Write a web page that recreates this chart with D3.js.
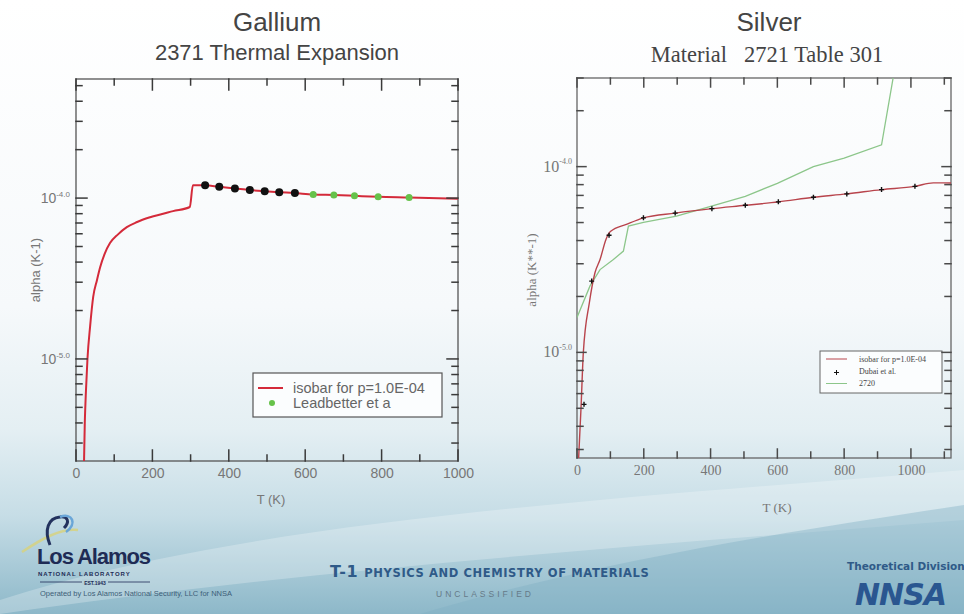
<!DOCTYPE html>
<html><head><meta charset="utf-8">
<script src="https://cdn.jsdelivr.net/npm/d3@7"></script>
<style>html,body{margin:0;padding:0;background:#fff;} svg{display:block}</style>
</head><body>
<svg id="c" width="964" height="614" xmlns="http://www.w3.org/2000/svg"></svg>
<script>
// ---------------- DATA ----------------
// Gallium (left)
const gaIsobarT = [18, 23, 26, 30, 37, 45, 55, 63, 75, 89, 110, 133, 160, 194, 254, 298, 306, 338, 375, 416, 455, 494, 532, 573, 621, 675, 729, 791, 872, 1000];
const gaIsobarA = [1.0e-6, 4.0e-6, 6.3e-6, 1.0e-5, 1.6e-5, 2.43e-5, 3.1e-5, 3.7e-5, 4.5e-5, 5.25e-5, 5.95e-5, 6.6e-5, 7.1e-5, 7.6e-5, 8.3e-5, 8.8e-5, 1.2e-4, 1.202e-4, 1.175e-4, 1.148e-4, 1.122e-4, 1.104e-4, 1.089e-4, 1.074e-4, 1.054e-4, 1.045e-4, 1.033e-4, 1.019e-4, 1.009e-4, 0.991e-4];
const gaBlackT = [338, 375, 416, 455, 494, 532, 573];
const gaBlackA = [1.20e-4, 1.175e-4, 1.148e-4, 1.122e-4, 1.104e-4, 1.089e-4, 1.074e-4];
const gaLeadT = [621, 675, 729, 791, 872];
const gaLeadA = [1.054e-4, 1.045e-4, 1.033e-4, 1.019e-4, 1.009e-4];
const gaXDomain = [0, 1000];
const gaYDomain = [2.32e-6, 5.5e-4];
const gaXMajor = [0, 200, 400, 600, 800, 1000];
const gaXMinor = [100, 300, 500, 700, 900];
const gaYMajorLabels = {"1e-5": "-5.0", "1e-4": "-4.0"};
const gaLegend = ["isobar for p=1.0E-04", "Leadbetter et a"];

// Silver (right)
const agIsobarT = [4, 12, 19, 37, 54, 69, 87, 100, 150, 199, 294, 404, 504, 603, 708, 808, 912, 1012, 1067, 1120];
const agIsobarA = [2.5e-6, 5.0e-6, 1.0e-5, 1.85e-5, 2.69e-5, 3.16e-5, 4.07e-5, 4.47e-5, 4.90e-5, 5.30e-5, 5.62e-5, 5.94e-5, 6.19e-5, 6.46e-5, 6.84e-5, 7.13e-5, 7.52e-5, 7.83e-5, 8.18e-5, 8.17e-5];
const agDataT = [21, 44, 96, 199, 294, 404, 504, 603, 708, 808, 912, 1012];
const agDataA = [5.25e-6, 2.42e-5, 4.27e-5, 5.30e-5, 5.62e-5, 5.94e-5, 6.19e-5, 6.46e-5, 6.84e-5, 7.13e-5, 7.52e-5, 7.83e-5];
const ag2720T = [0, 39, 69, 109, 139, 154, 199, 298, 369, 504, 600, 708, 800, 912, 968];
const ag2720A = [1.54e-5, 2.28e-5, 2.79e-5, 3.16e-5, 3.51e-5, 4.79e-5, 5.01e-5, 5.41e-5, 5.89e-5, 6.92e-5, 8.13e-5, 1.0e-4, 1.11e-4, 1.31e-4, 5.0e-4];
const agXDomain = [0, 1120];
const agYDomain = [2.7e-6, 3e-4];
const agXMajor = [0, 200, 400, 600, 800, 1000];
const agXMinor = [100, 300, 500, 700, 900, 1100];
const agYMajorLabels = {"1e-5": "-5.0", "1e-4": "-4.0"};
const agLegend = ["isobar for p=1.0E-04", "Dubai et al.", "2720"];

// ---------------- DRAW ----------------
const svg = d3.select("#c");
const defs = svg.append("defs");

const bg = defs.append("linearGradient").attr("id","bg").attr("x1",0).attr("y1",0).attr("x2",0).attr("y2",1);
[[0,"#ffffff"],[0.5,"#f6f9fb"],[0.7,"#e4eff3"],[0.84,"#c6dde6"],[1,"#8db8c9"]].forEach(s=>bg.append("stop").attr("offset",s[0]).attr("stop-color",s[1]));
svg.append("rect").attr("width",964).attr("height",614).attr("fill","url(#bg)");
const rg = defs.append("radialGradient").attr("id","lt").attr("cx",0).attr("cy",0.5).attr("r",0.5);
rg.append("stop").attr("offset",0).attr("stop-color","#4f8fa6").attr("stop-opacity",0.9);
rg.append("stop").attr("offset",1).attr("stop-color","#5f9bb0").attr("stop-opacity",0);
svg.append("ellipse").attr("cx",0).attr("cy",520).attr("rx",220).attr("ry",150).attr("fill","url(#lt)");
svg.append("path").attr("d","M0,600 C250,520 600,500 964,470 L964,520 C650,545 300,570 0,614 Z").attr("fill","#ffffff").attr("opacity",0.25);
svg.append("path").attr("d","M420,614 C600,560 800,530 964,505 L964,614 Z").attr("fill","#7fb0c3").attr("opacity",0.4);

function superLabel(sel, labels, supSize, bigSize){
  sel.each(function(d){
    const t = d3.select(this);
    const key = "1e" + Math.round(Math.log10(d));
    t.text(null);
    if(!(key in labels)) return;
    t.append("tspan").attr("font-size",bigSize).text("10");
    t.append("tspan").attr("dy",-bigSize*0.45).attr("font-size",supSize).text(labels[key]);
  });
}
function isMajor(d){ const l=Math.log10(d); return Math.abs(l-Math.round(l))<1e-6; }

function panel(o){
  const x = d3.scaleLinear(o.xDomain,[o.x0,o.x1]);
  const y = d3.scaleLog(o.yDomain,[o.y1,o.y0]);
  const clipId = "clip"+o.id;
  defs.append("clipPath").attr("id",clipId).append("rect").attr("x",o.x0).attr("y",o.y0).attr("width",o.x1-o.x0).attr("height",o.y1-o.y0);

  const yAll = y.ticks(); const yMaj = yAll.filter(isMajor); const yMin = yAll.filter(d=>!isMajor(d));

  const g = svg.append("g");
  g.append("g").attr("transform",`translate(0,${o.y1})`)
    .call(d3.axisBottom(x).tickValues(o.xMajor).tickSize(0).tickPadding(o.xPad).tickFormat(d3.format("d")))
    .call(s=>s.select(".domain").remove())
    .call(s=>s.selectAll("text").attr("font-family",o.font).attr("font-size",o.tickFont).attr("fill",o.textColor));
  g.append("g").attr("transform",`translate(${o.x0},0)`)
    .call(d3.axisLeft(y).tickValues(yMaj).tickSize(0).tickPadding(o.yPad))
    .call(s=>s.select(".domain").remove())
    .call(s=>s.selectAll("text").attr("font-family",o.font).attr("fill",o.textColor).attr("dy","0.45em")
      .call(superLabel, o.yLabels, o.supFont, o.tenFont));

  svg.append("rect").attr("x",o.x0).attr("y",o.y0).attr("width",o.x1-o.x0).attr("height",o.y1-o.y0)
    .attr("fill","none").attr("stroke",o.axisColor).attr("stroke-width",1.3);

  const plot = svg.append("g").attr("clip-path",`url(#${clipId})`);
  return {g, x, y, plot, o, yMaj, yMin};
}

function drawTicks(P){
  const {x, y, o, yMaj, yMin} = P;
  const segs = [];
  o.xMajor.forEach(v=>{ const px=x(v); segs.push([px,o.y1,px,o.y1-o.majLen],[px,o.y0,px,o.y0+o.majLen]); });
  o.xMinor.forEach(v=>{ const px=x(v); segs.push([px,o.y1,px,o.y1-o.minLen],[px,o.y0,px,o.y0+o.minLen]); });
  yMaj.forEach(v=>{ const py=y(v); segs.push([o.x0,py,o.x0+o.majLen,py],[o.x1,py,o.x1-o.majLen,py]); });
  yMin.forEach(v=>{ const py=y(v); segs.push([o.x0,py,o.x0+o.minLen,py],[o.x1,py,o.x1-o.minLen,py]); });
  svg.append("g").attr("class","ticks"+o.id)
    .selectAll("line").data(segs).enter().append("line")
    .attr("x1",d=>d[0]).attr("y1",d=>d[1]).attr("x2",d=>d[2]).attr("y2",d=>d[3])
    .style("stroke",o.tickColor).style("stroke-width","1.5px").style("stroke-linecap","square");
}

// ---- Gallium panel
const L = panel({id:"L", x0:76, x1:458, y0:79, y1:461, xDomain:gaXDomain, yDomain:gaYDomain,
  xMajor:gaXMajor, xMinor:gaXMinor, yLabels:gaYMajorLabels, majLen:11, minLen:6, xPad:7, yPad:6,
  axisColor:"#555", tickColor:"#3a3a3a", textColor:"#777", font:"Liberation Sans, Arial, sans-serif", tickFont:14, tenFont:14, supFont:8});
const lineL = d3.line().curve(d3.curveMonotoneX).x(d=>L.x(d[0])).y(d=>L.y(d[1]));
L.plot.append("path").datum(d3.zip(gaIsobarT,gaIsobarA)).attr("d",lineL).attr("fill","none").attr("stroke","#d42a3a").attr("stroke-width",2);
L.plot.selectAll(".bk").data(d3.zip(gaBlackT,gaBlackA)).join("circle").attr("cx",d=>L.x(d[0])).attr("cy",d=>L.y(d[1])).attr("r",4).attr("fill","#111");
L.plot.selectAll(".gr").data(d3.zip(gaLeadT,gaLeadA)).join("circle").attr("cx",d=>L.x(d[0])).attr("cy",d=>L.y(d[1])).attr("r",3.5).attr("fill","#66c24a");

svg.append("text").attr("x",277).attr("y",31).attr("text-anchor","middle").attr("font-family","Liberation Sans, Arial, sans-serif").attr("font-size",26).attr("fill","#444").text("Gallium");
svg.append("text").attr("x",277).attr("y",60).attr("text-anchor","middle").attr("font-family","Liberation Sans, Arial, sans-serif").attr("font-size",22).attr("fill","#444").text("2371 Thermal Expansion");
svg.append("text").attr("x",271).attr("y",504).attr("text-anchor","middle").attr("font-family","Liberation Sans, Arial, sans-serif").attr("font-size",13).attr("fill","#777").text("T (K)");
svg.append("text").attr("transform","translate(40,270) rotate(-90)").attr("text-anchor","middle").attr("font-family","Liberation Sans, Arial, sans-serif").attr("font-size",13).attr("fill","#777").text("alpha (K-1)");

const lg = svg.append("g");
lg.append("rect").attr("x",253).attr("y",373).attr("width",189).attr("height",44).attr("fill","#fbfdfe").attr("stroke","#555").attr("stroke-width",1.2);
lg.append("line").attr("x1",258).attr("x2",283).attr("y1",388).attr("y2",388).attr("stroke","#d42a3a").attr("stroke-width",2);
lg.append("circle").attr("cx",272).attr("cy",403).attr("r",3).attr("fill","#66c24a");
lg.selectAll("text").data(gaLegend).join("text").attr("x",293).attr("y",(d,i)=>393+i*15)
  .attr("font-family","Liberation Sans, Arial, sans-serif").attr("font-size",14.5).attr("fill","#666").text(d=>d);

// ---- Silver panel
const R = panel({id:"R", x0:577, x1:951, y0:78, y1:458, xDomain:agXDomain, yDomain:agYDomain,
  xMajor:agXMajor, xMinor:agXMinor, yLabels:agYMajorLabels, majLen:9, minLen:6, xPad:7, yPad:5,
  axisColor:"#666", tickColor:"#4a4a4a", textColor:"#777", font:"Liberation Serif, Times New Roman, serif", tickFont:14, tenFont:16, supFont:8});
const lineR = d3.line().x(d=>R.x(d[0])).y(d=>R.y(d[1]));
const lineRs = d3.line().curve(d3.curveMonotoneX).x(d=>R.x(d[0])).y(d=>R.y(d[1]));
R.plot.append("path").datum(d3.zip(ag2720T,ag2720A)).attr("d",lineR).attr("fill","none").attr("stroke","#8cc68a").attr("stroke-width",1.3);
R.plot.append("path").datum(d3.zip(agIsobarT,agIsobarA)).attr("d",lineRs).attr("fill","none").attr("stroke","#b8444c").attr("stroke-width",1.4);
R.plot.selectAll(".pl").data(d3.zip(agDataT,agDataA)).join("path")
  .attr("d",d=>{const cx=R.x(d[0]), cy=R.y(d[1]); return `M${cx-2.5},${cy}H${cx+2.5}M${cx},${cy-2.5}V${cy+2.5}`;})
  .attr("stroke","#111").attr("stroke-width",1.4);

svg.append("text").attr("x",769).attr("y",31).attr("text-anchor","middle").attr("font-family","Liberation Sans, Arial, sans-serif").attr("font-size",26).attr("fill","#444").text("Silver");
svg.append("text").attr("x",767).attr("y",62).attr("text-anchor","middle").attr("font-family","Liberation Serif, Times New Roman, serif").attr("font-size",22.5).attr("fill","#444").style("white-space","pre").text("Material   2721 Table 301");
svg.append("text").attr("x",777).attr("y",512).attr("text-anchor","middle").attr("font-family","Liberation Serif, Times New Roman, serif").attr("font-size",13).attr("fill","#777").text("T (K)");
svg.append("text").attr("transform","translate(536,270) rotate(-90)").attr("text-anchor","middle").attr("font-family","Liberation Serif, Times New Roman, serif").attr("font-size",13).attr("fill","#777").text("alpha (K**-1)");

const rl = svg.append("g");
rl.append("rect").attr("x",820).attr("y",351).attr("width",122).attr("height",42).attr("fill","#fbfdfe").attr("stroke","#666").attr("stroke-width",1);
rl.append("line").attr("x1",826).attr("x2",847).attr("y1",359).attr("y2",359).attr("stroke","#b8444c").attr("stroke-width",1);
rl.append("path").attr("d","M834,372.5H839M836.5,370V375").attr("stroke","#111").attr("stroke-width",1);
rl.append("line").attr("x1",826).attr("x2",847).attr("y1",383.5).attr("y2",383.5).attr("stroke","#8cc68a").attr("stroke-width",1);
rl.selectAll("text").data(agLegend).join("text").attr("x",859).attr("y",(d,i)=>362+i*12)
  .attr("font-family","Liberation Serif, Times New Roman, serif").attr("font-size",8).attr("fill","#444").text(d=>d);

// ---------------- FOOTER ----------------
const f = svg.append("g");
f.append("path").attr("d","M22,552 C40,540 60,528 78,530").attr("fill","none").attr("stroke","#d8d27a").attr("stroke-width",2.5).attr("opacity",0.8);
f.append("path").attr("d","M50,545 C44,530 48,518 60,517 C68,516 70,522 64,528").attr("fill","none").attr("stroke","#23325e").attr("stroke-width",3);
f.append("path").attr("d","M60,517 C72,512 78,524 66,532").attr("fill","none").attr("stroke","#6aa6d8").attr("stroke-width",2.5);
f.append("text").attr("x",37).attr("y",564).attr("font-family","Liberation Sans, Arial, sans-serif").attr("font-weight","bold").attr("font-size",22).attr("letter-spacing",-1.1).attr("fill","#1e2b55").text("Los Alamos");
f.append("text").attr("x",38).attr("y",576).attr("font-family","Liberation Sans, Arial, sans-serif").attr("font-weight","bold").attr("font-size",6).attr("letter-spacing",1).attr("fill","#1e2b55").text("NATIONAL LABORATORY");
f.append("line").attr("x1",40).attr("x2",150).attr("y1",582).attr("y2",582).attr("stroke","#1e2b55").attr("stroke-width",0.8);
f.append("rect").attr("x",82).attr("y",579).attr("width",26).attr("height",6).attr("fill","#b5d0da");
f.append("text").attr("x",95).attr("y",584.5).attr("text-anchor","middle").attr("font-family","Liberation Sans, Arial, sans-serif").attr("font-weight","bold").attr("font-size",5).attr("fill","#1e2b55").text("EST.1943");
f.append("text").attr("x",40).attr("y",596).attr("font-family","Liberation Sans, Arial, sans-serif").attr("font-size",7.5).attr("fill","#3d5e78").text("Operated by Los Alamos National Security, LLC for NNSA");
f.append("text").attr("x",330).attr("y",577).attr("font-family","DejaVu Sans, sans-serif").attr("font-weight","bold").attr("font-size",11.5).attr("fill","#2f5a88").attr("letter-spacing",0.6)
  .call(t=>{t.append("tspan").attr("font-size",16).text("T-1 "); t.append("tspan").text("PHYSICS AND CHEMISTRY OF MATERIALS");});
f.append("text").attr("x",485).attr("y",597).attr("text-anchor","middle").attr("font-family","Liberation Sans, Arial, sans-serif").attr("font-size",8.5).attr("letter-spacing",3).attr("fill","#667a88").text("UNCLASSIFIED");
f.append("text").attr("x",847).attr("y",570).attr("font-family","DejaVu Sans, sans-serif").attr("font-weight","bold").attr("font-size",10.5).attr("fill","#2f5a88").text("Theoretical Division");
f.append("text").attr("x",855).attr("y",605).attr("font-family","DejaVu Sans, sans-serif").attr("font-weight","bold").attr("font-style","italic").attr("font-size",30).attr("letter-spacing",-1).attr("fill","#2a5690").text("NNSA");

// tick marks drawn last, on top of everything
drawTicks(L);
drawTicks(R);
</script>
</body></html>
